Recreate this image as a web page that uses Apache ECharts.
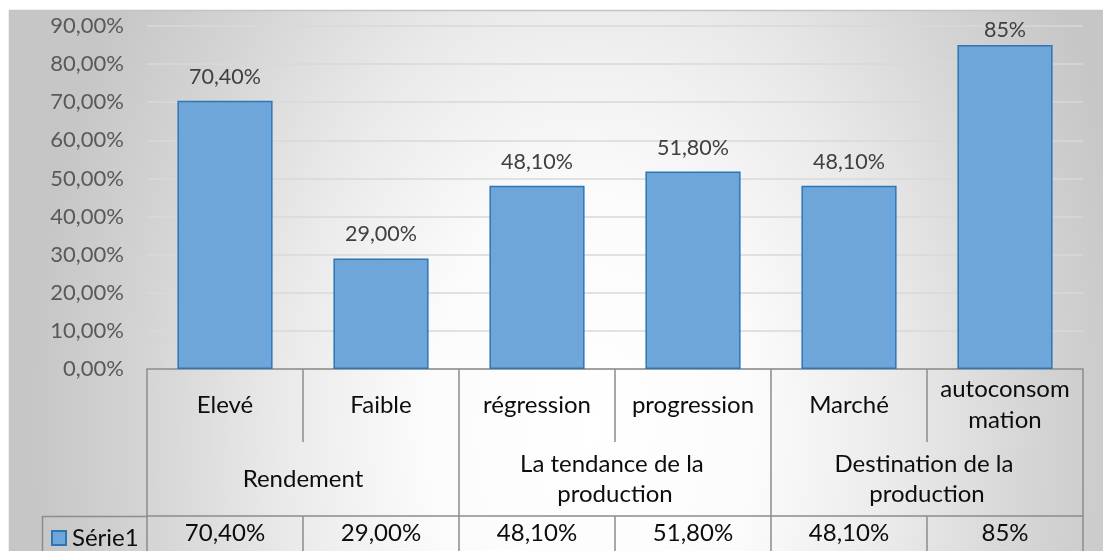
<!DOCTYPE html>
<html>
<head>
<meta charset="utf-8">
<style>
  html, body { margin: 0; padding: 0; background: #ffffff; }
  #chart { width: 1103px; height: 551px; }
</style>
<script src="https://cdn.jsdelivr.net/npm/echarts@6/dist/echarts.min.js"></script>
</head>
<body>
<div id="chart"></div>
<script>
// Sub-categories (first row under the axis) and their groups (second row)
const categories = ['Elevé', 'Faible', 'régression', 'progression', 'Marché', 'autoconsommation'];
const groups = ['Rendement', 'La tendance de la production', 'Destination de la production'];
// Série1 values (shares) and the number of decimals shown for each
const values = [0.704, 0.29, 0.481, 0.518, 0.481, 0.85];
const decimals = [2, 2, 2, 2, 2, 0];
const seriesName = 'Série1';
// Value axis ticks
const yTicks = { min: 0, max: 0.9, interval: 0.1 };

const FONT = 'Lato';
const LINE = '#8c8c8c';
const TABLE_SIZE = 24;
const LABEL_GAP = 13;

function pct(v, d) {
  return (v * 100).toFixed(d).replace('.', ',') + '%';
}
const valueLabels = values.map((v, i) => pct(v, decimals[i]));

// Labels that would rise above the plot area are pulled down onto the bar top
const barData = values.map(v => (
  v > 0.82 ? { value: v, label: { distance: 4 } } : v
));

const chart = echarts.init(document.getElementById('chart'), null, { renderer: 'canvas' });

// Chart area: grey edges fading to a white centre
const cx = 590, cy = 430, sx = 0.7;
chart.setOption({
  backgroundColor: '#ffffff',
  textStyle: { fontFamily: FONT },
  graphic: [
    {
      type: 'rect', z: -10, silent: true,
      x: cx, y: cy, scaleX: sx, scaleY: 1,
      shape: { x: (9 - cx) / sx, y: 10 - cy, width: 1100 / sx, height: 545 },
      style: {
        fill: {
          type: 'radial', global: true, x: 0, y: 0, r: 800,
          colorStops: [
            { offset: 0, color: '#ffffff' },
            { offset: 0.3, color: '#fbfbfb' },
            { offset: 0.55, color: '#eaeaea' },
            { offset: 0.8, color: '#d4d4d4' },
            { offset: 1, color: '#c6c6c6' }
          ]
        }
      }
    },
    {
      type: 'polyline', z: -9, silent: true,
      shape: { points: [[9.5, 560], [9.5, 10.5], [1110, 10.5]] },
      style: { stroke: '#c4c4c4', lineWidth: 1.5, fill: null }
    },
    {
      // legend cell of the data table
      type: 'polyline', z: 5, silent: true,
      shape: { points: [[42.5, 560], [42.5, 516.5], [148, 516.5]] },
      style: { stroke: LINE, lineWidth: 1.5, fill: null }
    }
  ],
  legend: {
    data: [seriesName],
    left: 51, top: 526, padding: 0,
    icon: 'rect', itemWidth: 14, itemHeight: 14, itemGap: 6,
    textStyle: { fontFamily: FONT, fontSize: TABLE_SIZE, color: '#0d0d0d', padding: [0, 0, 0, 1] }
  },
  grid: { left: 147, right: 20, top: 26, bottom: 182, containLabel: false },
  yAxis: {
    type: 'value',
    min: yTicks.min, max: yTicks.max, interval: yTicks.interval,
    axisLine: { show: false },
    axisTick: { show: false },
    axisLabel: {
      margin: 23, color: '#595959', fontFamily: FONT, fontSize: 22,
      formatter: v => pct(v, 2)
    },
    splitLine: { lineStyle: { color: '#d9d9d9', width: 1.5 } }
  },
  xAxis: [
    {
      type: 'category', data: categories, position: 'bottom', offset: 0,
      axisLine: { show: true, lineStyle: { color: LINE, width: 1.5 } },
      axisTick: { show: true, interval: 0, length: 73, lineStyle: { color: LINE, width: 1.5 } },
      axisLabel: {
        interval: 0, margin: 36, verticalAlign: 'middle', align: 'center',
        color: '#0d0d0d', fontFamily: FONT, fontSize: TABLE_SIZE, lineHeight: 31,
        width: 140, overflow: 'breakAll'
      }
    },
    {
      type: 'category', data: groups, position: 'bottom', offset: 73,
      axisLine: { show: false },
      axisTick: { show: true, interval: 0, length: 74, lineStyle: { color: LINE, width: 1.5 } },
      axisLabel: {
        interval: 0, margin: 37, verticalAlign: 'middle', align: 'center',
        color: '#0d0d0d', fontFamily: FONT, fontSize: TABLE_SIZE, lineHeight: 30,
        width: 260, overflow: 'break'
      }
    },
    {
      type: 'category', data: valueLabels, position: 'bottom', offset: 147,
      axisLine: { show: true, lineStyle: { color: LINE, width: 1.5 } },
      axisTick: { show: true, interval: 0, length: 40, lineStyle: { color: LINE, width: 1.5 } },
      axisLabel: {
        interval: 0, margin: 17, verticalAlign: 'middle', align: 'center',
        color: '#0d0d0d', fontFamily: FONT, fontSize: TABLE_SIZE
      }
    }
  ],
  series: [
    {
      name: seriesName,
      type: 'bar',
      xAxisIndex: 0,
      data: barData,
      barWidth: '61%',
      itemStyle: { color: '#6fa6da', borderColor: '#2e75b6', borderWidth: 1.5 },
      label: {
        show: true, position: 'top', distance: LABEL_GAP,
        color: '#404040', fontFamily: FONT, fontSize: 21.5,
        formatter: p => valueLabels[p.dataIndex]
      },
      emphasis: { disabled: true }
    }
  ],
  animation: false
});
</script>
</body>
</html>
